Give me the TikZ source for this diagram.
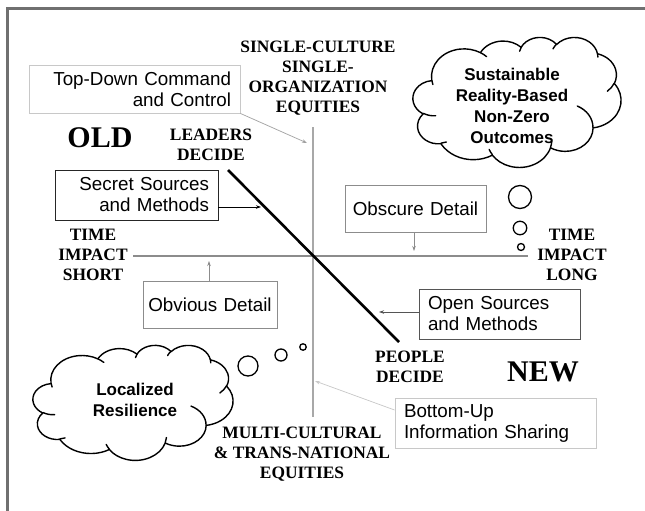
\documentclass[tikz,border=0pt]{standalone}
\usepackage{fontspec}
\setmainfont{Liberation Serif}
\setsansfont{Liberation Sans}
\usetikzlibrary{arrows.meta}
\definecolor{framegray}{HTML}{707070}
\definecolor{axisv}{HTML}{A8A8A8}
\definecolor{axish}{HTML}{8C8C8C}
\definecolor{lightb}{HTML}{C8C8C8}
\definecolor{midb}{HTML}{8C8C8C}
\definecolor{darkb}{HTML}{555555}
% cloud helpers (path space 0..100, y downwards)
\newcommand\cmove[2]{%
  \pgfmathsetmacro\cldpx{#1*\cldw}%
  \pgfmathsetmacro\cldpy{-1*#2*\cldh}%
  \pgfpathmoveto{\pgfpoint{\cldpx pt}{\cldpy pt}}}
\newcommand\carc[4]{%
  \pgfmathsetmacro\cldtA{atan2(#1*sin(#3),#2*cos(#3))}%
  \pgfmathsetmacro\cldtB{atan2(#1*sin(#3+#4),#2*cos(#3+#4))}%
  \pgfmathsetmacro\cldtD{mod(\cldtB-(\cldtA)+900,360)-180}%
  \pgfmathsetmacro\cldtS{-1*(\cldtA)}%
  \pgfmathsetmacro\cldtE{-1*(\cldtA)-(\cldtD)}%
  \pgfmathsetmacro\cldxr{#1*\cldw}%
  \pgfmathsetmacro\cldyr{#2*\cldh}%
  \pgfpatharc{\cldtS}{\cldtE}{\cldxr pt and \cldyr pt}}
\newcommand{\officecloud}[4]{%
  \pgfmathsetmacro\cldw{#3/100}\pgfmathsetmacro\cldh{#4/100}%
  \begin{scope}[shift={(#1,#2)}]
  \pgfsetlinewidth{1.4pt}\pgfsetroundjoin\pgfsetroundcap
  \pgfsetfillcolor{white}\pgfsetstrokecolor{black}
  \cmove{9.028}{33.264}%
  \carc{15.632}{21.273}{-190.487}{123.781}%
  \carc{12.345}{16.822}{-144.102}{89.945}%
  \carc{10.104}{13.762}{-145.808}{99.723}%
  \carc{11.243}{15.266}{-130.986}{117.242}%
  \carc{12.345}{16.836}{-78.709}{109.027}%
  \carc{15.683}{21.343}{-46.267}{130.269}%
  \carc{13.391}{18.211}{0.625}{114.033}%
  \carc{15.630}{21.331}{22.452}{115.173}%
  \carc{17.870}{24.405}{66.243}{75.711}%
  \carc{10.093}{13.699}{-274.942}{146.736}%
  \carc{10.058}{13.762}{-246.829}{152.519}%
  \pgfpathclose
  \pgfusepath{fill,stroke}%
  \cmove{10.863}{60.595}\carc{10.058}{13.762}{86.742}{26.430}%
  \cmove{16.037}{80.785}\carc{10.093}{13.699}{73.610}{11.447}%
  \cmove{38.144}{90.486}\carc{15.630}{21.331}{137.624}{14.081}%
  \cmove{66.729}{80.442}\carc{15.630}{21.331}{6.453}{15.998}%
  \cmove{79.002}{53.134}\carc{13.391}{18.211}{-70.292}{70.917}%
  \cmove{96.755}{35.542}\carc{12.345}{16.836}{30.318}{27.752}%
  \cmove{88.713}{12.560}\carc{11.243}{15.266}{-13.744}{14.859}%
  \cmove{67.310}{9.148}\carc{11.243}{15.266}{-149.181}{18.195}%
  \cmove{51.252}{10.926}\carc{10.104}{13.762}{-163.494}{19.007}%
  \cmove{32.407}{12.019}\carc{15.632}{21.273}{-66.707}{12.319}%
  \cmove{9.553}{36.549}\carc{15.632}{21.273}{157.654}{11.858}%
  \pgfusepath{stroke}%
  \end{scope}}
\begin{document}
\begin{tikzpicture}[x=1pt,y=-1pt,
  lbl/.style={font=\bfseries\fontsize{17.4}{20}\selectfont, align=center, inner sep=0pt},
  big/.style={font=\bfseries\fontsize{30}{32}\selectfont, inner sep=0pt},
  txtbox/.style={draw, line width=0.9pt, fill=white, font=\sffamily\fontsize{18.8}{21}\selectfont, inner ysep=0pt, inner xsep=9pt},
  cbox/.style={txtbox, inner xsep=2pt, align=center},
  cloudtxt/.style={font=\sffamily\bfseries\fontsize{17}{21}\selectfont, align=center},
  bubble/.style={draw, line width=1.3pt, circle, inner sep=0pt},
  arr/.style={-{Stealth[length=5pt,width=3.5pt]}, line width=0.7pt}
]
\useasboundingbox (0,0) rectangle (645,511);
\fill[white] (0,0) rectangle (645,511);
% frame
\draw[framegray, line width=2.5pt] (7.5,511) -- (7.5,8.5) -- (645,8.5);

% axes
\coordinate (vtop) at (313,127);
\coordinate (vbot) at (313,417);
\coordinate (hleft) at (133,256);
\coordinate (hright) at (528,256);
\coordinate (dtop) at (228,170);
\coordinate (dbot) at (399,342);
\draw[axisv, line width=2.4pt] (vtop) -- (vbot);
\draw[axish, line width=2.4pt] (hleft) -- (hright);
\draw[black, line width=2.6pt] (dtop) -- (dbot);

% labels
\node[lbl] (single) at (318,78) {SINGLE-CULTURE\\SINGLE-\\ORGANIZATION\\EQUITIES};
\node[lbl] (multi) at (302,454) {MULTI-CULTURAL\\\& TRANS-NATIONAL\\EQUITIES};
\node[lbl] (leaders) at (211,145) {LEADERS\\DECIDE};
\node[lbl] (people) at (410,366.5) {PEOPLE\\DECIDE};
\node[lbl] (tshort) at (93,255) {TIME\\IMPACT\\SHORT};
\node[lbl] (tlong) at (572,255) {TIME\\IMPACT\\LONG};
\node[big] (old) at (100,138) {OLD};
\node[big] (new) at (543,372) {NEW};

% boxes
\node[txtbox, draw=lightb, minimum height=48pt, text width=193pt, align=right] (topdown) at (134.5,89) {Top-Down Command\\and Control};
\node[txtbox, draw=black!85, minimum height=50pt, text width=145pt, align=right] (secret) at (136.5,195) {Secret Sources\\and Methods};
\node[cbox, draw=midb, minimum height=47pt, text width=137pt] (obscure) at (415.5,208.5) {Obscure Detail};
\node[cbox, draw=midb, minimum height=47pt, text width=130pt] (obvious) at (210,304.5) {Obvious Detail};
\node[txtbox, draw=darkb, minimum height=50pt, text width=143pt, align=left] (open) at (499.5,314) {Open Sources\\and Methods};
\node[txtbox, draw=lightb, minimum height=50pt, text width=183pt, align=left] (bottomup) at (495.5,423) {Bottom-Up\\Information Sharing};

% arrows
\coordinate (a1) at (307,143);
\coordinate (a2) at (261,207);
\coordinate (a3) at (414,251);
\coordinate (a4) at (209,261);
\coordinate (a5) at (379,312);
\coordinate (a6) at (315,381);
\draw[arr, lightb!80!black] (topdown.south east) -- (a1);
\draw[arr, black] (secret.east |- a2) -- (a2);
\draw[arr, midb] (obscure.south -| a3) -- (a3);
\draw[arr, midb] (obvious.north -| a4) -- (a4);
\draw[arr, darkb] (open.west |- a5) -- (a5);
\draw[arr, lightb] (bottomup.west |- 0,410) -- (a6);

% clouds
\officecloud{413}{37}{208}{130}
\node[cloudtxt] (cloud1t) at (512,106) {Sustainable\\Reality-Based\\Non-Zero\\Outcomes};
\node[bubble, minimum size=23pt] (b1) at (520,197) {};
\node[bubble, minimum size=13.5pt] (b2) at (520,228) {};
\node[bubble, minimum size=7pt] (b3) at (521,247) {};

\officecloud{33}{345}{200}{115}
\node[cloudtxt] (cloud2t) at (135,400) {Localized\\Resilience};
\node[bubble, minimum size=20pt] (c1) at (248,366) {};
\node[bubble, minimum size=12pt] (c2) at (281,355) {};
\node[bubble, minimum size=6.5pt] (c3) at (303,347) {};
\end{tikzpicture}
\end{document}
